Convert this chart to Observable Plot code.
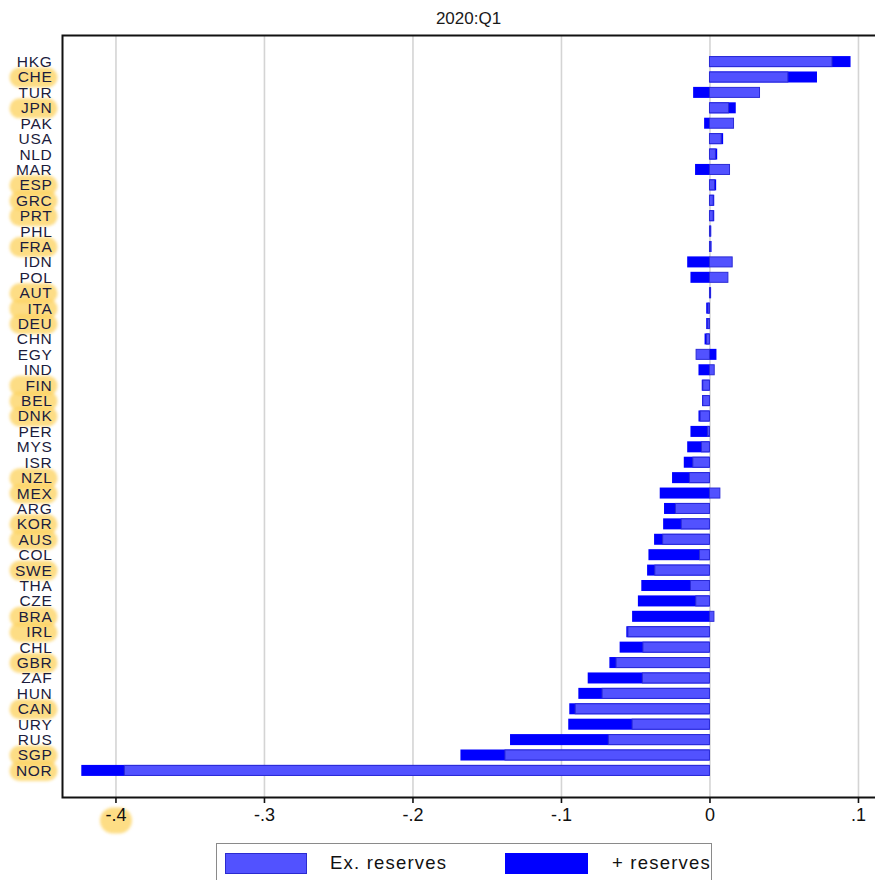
<!DOCTYPE html>
<html>
<head>
<meta charset="utf-8">
<script src="https://cdn.jsdelivr.net/npm/d3@7"></script>
<script src="https://cdn.jsdelivr.net/npm/@observablehq/plot@0.6"></script>
<style>
  html, body { margin: 0; padding: 0; background: #fff; overflow: hidden; }
  #wrap { position: relative; width: 875px; height: 880px; overflow: hidden; font-family: "Liberation Sans", Arial, sans-serif; }
  #title { position: absolute; left: 62px; width: 813px; top: 9px; text-align: center; font-size: 17px; color: #1a1a1a; }
  #chart { position: absolute; left: 0; top: 28px; width: 885px; }
  #chart svg { max-width: none !important; }
  #legend { position: absolute; left: 216px; top: 843px; width: 496px; height: 60px; border: 1px solid #8a8a8a; box-sizing: border-box; }
  .sw { position: absolute; top: 9px; height: 21px; box-sizing: border-box; }
  .lt { position: absolute; top: 8px; font-size: 18.5px; letter-spacing: 1.2px; color: #111; line-height: 22px; white-space: nowrap; }
  g[aria-label="y-axis tick label"] text { letter-spacing: 0.7px; }
</style>
</head>
<body>
<div id="wrap">
  <div id="title">2020:Q1</div>
  <div id="chart"></div>
  <div id="legend">
    <div class="sw" style="left:8px;width:82px;background:#5252ff;border:1px solid #2b2bd0;"></div>
    <div class="lt" style="left:113px;">Ex. reserves</div>
    <div class="sw" style="left:288px;width:83px;background:#0000ff;"></div>
    <div class="lt" style="left:395px;">+ reserves</div>
  </div>
</div>
<script>
const countries = ["HKG","CHE","TUR","JPN","PAK","USA","NLD","MAR","ESP","GRC","PRT","PHL","FRA","IDN","POL","AUT","ITA","DEU","CHN","EGY","IND","FIN","BEL","DNK","PER","MYS","ISR","NZL","MEX","ARG","KOR","AUS","COL","SWE","THA","CZE","BRA","IRL","CHL","GBR","ZAF","HUN","CAN","URY","RUS","SGP","NOR"];
const exReserves = [0.0825, 0.0528, 0.0337, 0.0128, 0.0162, 0.0079, 0.0040, 0.0135, 0.0034, 0.0025, 0.0025, 0.0006, 0.0007, 0.0153, 0.0124, 0.0005, -0.0010, -0.0012, -0.0020, -0.0090, 0.0032, -0.0045, -0.0045, -0.0063, -0.0013, -0.0054, -0.0112, -0.0135, 0.0070, -0.0229, -0.0190, -0.0315, -0.0067, -0.0368, -0.0128, -0.0092, 0.0030, -0.0549, -0.0448, -0.0629, -0.0452, -0.0723, -0.0904, -0.0521, -0.0681, -0.1377, -0.3940];
const plusReserves = [0.0950, 0.0724, -0.0110, 0.0177, -0.0036, 0.0092, 0.0052, -0.0097, 0.0045, 0.0032, 0.0032, 0.0012, 0.0014, -0.0150, -0.0128, 0.0011, -0.0022, -0.0022, -0.0033, 0.0047, -0.0074, -0.0052, -0.0050, -0.0074, -0.0128, -0.0150, -0.0173, -0.0252, -0.0335, -0.0306, -0.0312, -0.0373, -0.0411, -0.0420, -0.0459, -0.0482, -0.0521, -0.0560, -0.0605, -0.0674, -0.0820, -0.0883, -0.0944, -0.0951, -0.1343, -0.1677, -0.4230];
const highlighted = ["CHE","JPN","ESP","GRC","PRT","FRA","AUT","ITA","DEU","FIN","BEL","DNK","NZL","MEX","KOR","AUS","SWE","BRA","IRL","GBR","CAN","SGP","NOR"];
const xTicks = [-0.4, -0.3, -0.2, -0.1, 0, 0.1];
const xTickLabels = ["-.4", "-.3", "-.2", "-.1", "0", ".1"];
const highlightedTicks = [-0.4];

const rows = countries.map((c, i) => ({country: c, ex: exReserves[i], plus: plusReserves[i]}));
const hl = "#fcd467";

// rounded "marker" highlight shape for a dot mark
const pill = (w, h) => ({
  draw(ctx) {
    const r = h / 2;
    ctx.moveTo(-w / 2 + r, -h / 2);
    ctx.lineTo(w / 2 - r, -h / 2);
    ctx.arc(w / 2 - r, 0, r, -Math.PI / 2, Math.PI / 2);
    ctx.lineTo(-w / 2 + r, h / 2);
    ctx.arc(-w / 2 + r, 0, r, Math.PI / 2, 3 * Math.PI / 2);
    ctx.closePath();
  }
});

const plot = Plot.plot({
  width: 885,
  height: 810,
  marginTop: 7,
  marginBottom: 41,
  marginLeft: 62,
  marginRight: 0,
  style: {fontFamily: "'Liberation Sans', Arial, sans-serif", background: "white", maxWidth: "none"},
  x: {domain: [-0.436, 0.1182]},
  y: {domain: countries, paddingInner: 0.35, paddingOuter: 1.4, align: 0.5, round: false},
  marks: [
    Plot.gridX(xTicks, {stroke: "#d4d4d4", strokeOpacity: 1, strokeWidth: 1.6}),
    // highlight blobs behind labels
    Plot.dot(highlighted, {y: d => d, frameAnchor: "left", dx: -29, symbol: pill(48, 20), fill: hl, fillOpacity: 0.8}),
    Plot.dot(highlightedTicks, {x: d => d, frameAnchor: "bottom", dy: 23, symbol: pill(32, 26), fill: hl, fillOpacity: 0.8}),
    Plot.barX(rows, {y: "country", x1: 0, x2: "plus", fill: "#0000ff", insetTop: -0.5, insetBottom: -0.5}),
    Plot.barX(rows, {y: "country", x1: 0, x2: "ex", fill: "#5252ff", stroke: "#2b2bd6", strokeWidth: 1}),
    Plot.axisY({tickSize: 0, tickPadding: 10, fontSize: 15.5, fill: "#1c1c3c", label: null}),
    Plot.axisX({ticks: xTicks, tickFormat: d => xTickLabels[xTicks.indexOf(d)], tickSize: 6, tickPadding: 5,
      fontSize: 18, fill: "#111", stroke: "#111", strokeWidth: 1.6, label: null}),
    Plot.frame({stroke: "#111", strokeWidth: 2})
  ]
});
document.getElementById("chart").appendChild(plot);
d3.select(plot).selectAll(`g[fill="${hl}"]`).style("filter", "blur(1.8px)");
</script>
</body>
</html>
